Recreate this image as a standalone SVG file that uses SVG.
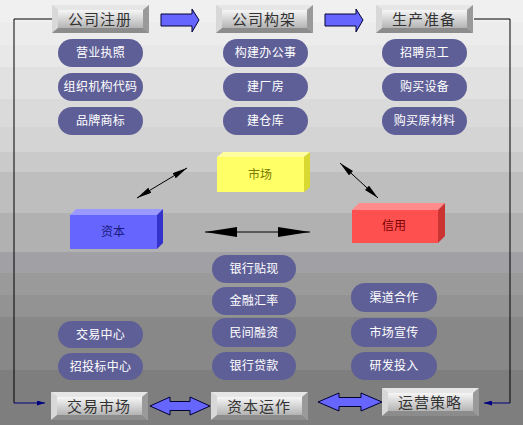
<svg xmlns="http://www.w3.org/2000/svg" xmlns:xlink="http://www.w3.org/1999/xlink" width="523" height="425" viewBox="0 0 523 425">
<defs>
<style>
.hd{font-family:"Noto Sans CJK SC","Liberation Sans",sans-serif;font-size:15px;fill:#333;text-anchor:middle;letter-spacing:1px}
.pl{fill:#5f5f98}
.pt{font-family:"Noto Sans CJK SC","Liberation Sans",sans-serif;font-size:12px;fill:#fff;text-anchor:middle;letter-spacing:0.3px}
.bt{font-family:"Noto Sans CJK SC","Liberation Sans",sans-serif;font-size:12px;text-anchor:middle}
.blk{stroke:#000;stroke-width:1;fill:none}
.nav{stroke:#000080;stroke-width:1;fill:none}
.fat{fill:#6666ff;stroke:#000033;stroke-width:1}
</style>
<linearGradient id="face" x1="0" y1="0" x2="0" y2="1">
<stop offset="0" stop-color="#f6f6f6"/>
<stop offset="1" stop-color="#b4b4b4"/>
</linearGradient>
<g id="bevel">
<rect x="0" y="0" width="97" height="28" fill="#c4c4c4"/>
<polygon points="0,0 97,0 91,5 6,5" fill="#e6e6e6"/>
<polygon points="0,0 6,5 6,23 0,28" fill="#d8d8d8"/>
<polygon points="97,0 97,28 91,23 91,5" fill="#9a9a9a"/>
<polygon points="0,28 6,23 91,23 97,28" fill="#8c8c8c"/>
<rect x="6" y="5" width="85" height="18" fill="url(#face)"/>
</g>
<marker id="ah" viewBox="0 0 15 6" refX="15" refY="3" markerWidth="15" markerHeight="6" markerUnits="userSpaceOnUse" orient="auto-start-reverse">
<path d="M0,0 L15,3 L0,6 z" fill="#000"/>
</marker>
<marker id="ahL" viewBox="0 0 32 10" refX="32" refY="5" markerWidth="32" markerHeight="10" markerUnits="userSpaceOnUse" orient="auto-start-reverse">
<path d="M0,0 L32,5 L0,10 z" fill="#000"/>
</marker>
<marker id="ahS" viewBox="0 0 8 5" refX="8" refY="2.5" markerWidth="8" markerHeight="5" markerUnits="userSpaceOnUse" orient="auto">
<path d="M0,0 L8,2.5 L0,5 z" fill="#000080"/>
</marker>
</defs>

<g id="background">
<rect x="0" y="0" width="523" height="22" fill="#f0f0f0"/>
<rect x="0" y="22" width="523" height="23" fill="#ececec"/>
<rect x="0" y="45" width="523" height="22" fill="#e8e8e8"/>
<rect x="0" y="67" width="523" height="32" fill="#e1e1e1"/>
<rect x="0" y="99" width="523" height="28" fill="#dadada"/>
<rect x="0" y="127" width="523" height="25" fill="#d4d4d4"/>
<rect x="0" y="152" width="523" height="20" fill="#cacaca"/>
<rect x="0" y="172" width="523" height="41" fill="#bebebe"/>
<rect x="0" y="213" width="523" height="39" fill="#b1b1b1"/>
<rect x="0" y="252" width="523" height="21" fill="#a1a1a5"/>
<rect x="0" y="273" width="523" height="22" fill="#9a9a9a"/>
<rect x="0" y="295" width="523" height="22" fill="#939393"/>
<rect x="0" y="317" width="523" height="53" fill="#888888"/>
<rect x="0" y="370" width="523" height="55" fill="#7e7e7e"/>
</g>

<g id="connectors">
<polyline class="blk" points="52,19 14,19 14,403"/>
<line class="nav" x1="14" y1="403" x2="45" y2="403" marker-end="url(#ahS)"/>
<polyline class="blk" points="474,19 510,19 510,403"/>
<line class="nav" x1="510" y1="403" x2="484" y2="403" marker-end="url(#ahS)"/>
<line class="blk" x1="137" y1="198" x2="187" y2="168" marker-start="url(#ah)" marker-end="url(#ah)"/>
<line class="blk" x1="340" y1="163" x2="378" y2="198" marker-start="url(#ah)" marker-end="url(#ah)"/>
<line class="blk" x1="205" y1="232" x2="310" y2="232" marker-start="url(#ahL)" marker-end="url(#ahL)"/>
<polygon class="fat" points="161,14 192,14 192,9 199,20 192,32 192,26 161,26"/>
<polygon class="fat" points="325,14 356,14 356,9 363,20 356,32 356,26 325,26"/>
<polygon class="fat" points="150,406 170,397 170,401.5 190,401.5 190,397 210,406 190,415 190,410.5 170,410.5 170,415"/>
<polygon class="fat" points="318,402 339,393 339,397.5 361,397.5 361,393 382,402 361,411 361,406.5 339,406.5 339,411"/>
</g>

<g id="n-gszc"><use xlink:href="#bevel" transform="translate(52,5)"/><text class="hd" x="100" y="24.5">公司注册</text></g>
<g id="n-gsgj"><use xlink:href="#bevel" transform="translate(216,5)"/><text class="hd" x="264" y="24.5">公司构架</text></g>
<g id="n-sczb"><use xlink:href="#bevel" transform="translate(376,5)"/><text class="hd" x="424" y="24.5">生产准备</text></g>
<g id="n-jysc"><use xlink:href="#bevel" transform="translate(51,392)"/><text class="hd" x="99" y="411.5">交易市场</text></g>
<g id="n-zbyz"><use xlink:href="#bevel" transform="translate(211,392)"/><text class="hd" x="259" y="411.5">资本运作</text></g>
<g id="n-yycl"><use xlink:href="#bevel" transform="translate(382,388)"/><text class="hd" x="430" y="407.5">运营策略</text></g>

<g id="n-yyzz"><rect class="pl" x="58" y="39" width="85" height="28" rx="14"/><text class="pt" x="100.5" y="57">营业执照</text></g>
<g id="n-zzjgdm"><rect class="pl" x="58" y="73" width="85" height="28" rx="14"/><text class="pt" x="100.5" y="91">组织机构代码</text></g>
<g id="n-ppsb"><rect class="pl" x="58" y="107" width="85" height="28" rx="14"/><text class="pt" x="100.5" y="125">品牌商标</text></g>
<g id="n-gjbgs"><rect class="pl" x="223" y="39" width="85" height="28" rx="14"/><text class="pt" x="265.5" y="57">构建办公事</text></g>
<g id="n-jcf"><rect class="pl" x="223" y="73" width="85" height="28" rx="14"/><text class="pt" x="265.5" y="91">建厂房</text></g>
<g id="n-jck"><rect class="pl" x="223" y="107" width="85" height="28" rx="14"/><text class="pt" x="265.5" y="125">建仓库</text></g>
<g id="n-zpyg"><rect class="pl" x="382" y="39" width="85" height="28" rx="14"/><text class="pt" x="424.5" y="57">招聘员工</text></g>
<g id="n-gmsb"><rect class="pl" x="382" y="73" width="85" height="28" rx="14"/><text class="pt" x="424.5" y="91">购买设备</text></g>
<g id="n-gmycl"><rect class="pl" x="382" y="107" width="85" height="28" rx="14"/><text class="pt" x="424.5" y="125">购买原材料</text></g>

<g id="n-shichang">
<polygon points="217,157 223,152 310,152 304,157" fill="#ffffa0"/>
<polygon points="304,157 310,152 310,187 304,192" fill="#d8d830"/>
<rect x="217" y="157" width="87" height="35" fill="#ffff66"/>
<text class="bt" x="260" y="179" fill="#7a7a00">市场</text>
</g>
<g id="n-ziben">
<polygon points="70,215 76,209 163,209 157,215" fill="#9999ff"/>
<polygon points="157,215 163,209 163,243 157,249" fill="#3333cc"/>
<rect x="70" y="215" width="87" height="34" fill="#6666ff"/>
<text class="bt" x="113" y="236" fill="#1a1a80">资本</text>
</g>
<g id="n-xinyong">
<polygon points="352,210 359,203 445,203 438,210" fill="#ff8c8c"/>
<polygon points="438,210 445,203 445,236 438,243" fill="#cc3333"/>
<rect x="352" y="210" width="86" height="33" fill="#ff5050"/>
<text class="bt" x="394" y="230" fill="#7a0000">信用</text>
</g>

<g id="n-yhtx"><rect class="pl" x="212" y="255" width="84" height="28" rx="14"/><text class="pt" x="254" y="273">银行贴现</text></g>
<g id="n-jrhl"><rect class="pl" x="212" y="287" width="84" height="28" rx="14"/><text class="pt" x="254" y="305">金融汇率</text></g>
<g id="n-mjrz"><rect class="pl" x="212" y="318" width="84" height="29" rx="14"/><text class="pt" x="254" y="336.5">民间融资</text></g>
<g id="n-yhdk"><rect class="pl" x="212" y="352" width="84" height="28" rx="14"/><text class="pt" x="254" y="370">银行贷款</text></g>
<g id="n-jyzx"><rect class="pl" x="58" y="321" width="85" height="27" rx="13.5"/><text class="pt" x="100.5" y="338.5">交易中心</text></g>
<g id="n-ztbzx"><rect class="pl" x="58" y="353" width="85" height="27" rx="13.5"/><text class="pt" x="100.5" y="370.5">招投标中心</text></g>
<g id="n-qdhz"><rect class="pl" x="351" y="283" width="86" height="29" rx="14"/><text class="pt" x="394" y="301.5">渠道合作</text></g>
<g id="n-scxc"><rect class="pl" x="351" y="318" width="86" height="29" rx="14"/><text class="pt" x="394" y="336.5">市场宣传</text></g>
<g id="n-yftr"><rect class="pl" x="351" y="352" width="86" height="28" rx="14"/><text class="pt" x="394" y="370">研发投入</text></g>
</svg>
